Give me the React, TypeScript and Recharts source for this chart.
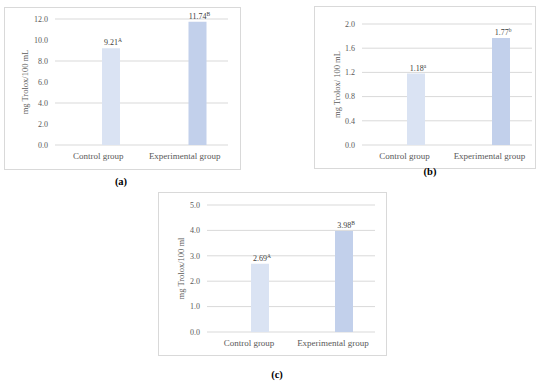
import React from 'react';
import { BarChart, Bar, XAxis, YAxis, CartesianGrid, Cell, LabelList } from 'recharts';

const categories = ['Control group', 'Experimental group'];
const barColors = ['#DAE3F3', '#C2D0EB'];

const valuesA = [9.21, 11.74];
const lettersA = ['A', 'B'];
const ticksA = [0, 2, 4, 6, 8, 10, 12];

const valuesB = [1.18, 1.77];
const lettersB = ['a', 'b'];
const ticksB = [0, 0.4, 0.8, 1.2, 1.6, 2.0];

const valuesC = [2.69, 3.98];
const lettersC = ['A', 'B'];
const ticksC = [0, 1, 2, 3, 4, 5];

const FONT = 'Liberation Serif, Times New Roman, serif';
const GRAY = '#595959';

const YLabel = (props: any) => {
  const vb = props.viewBox || { x: 0, y: 0, width: 0, height: 0 };
  const x = vb.x + vb.width - props.off;
  const y = vb.y + vb.height / 2;
  return (
    <text
      x={x}
      y={y}
      transform={`rotate(-90 ${x} ${y})`}
      textAnchor="middle"
      dominantBaseline="central"
      fontSize={8.5}
      fontFamily={FONT}
      fill={GRAY}
    >
      {props.text}
    </text>
  );
};

type PanelProps = {
  left: number;
  top: number;
  width: number;
  height: number;
  values: number[];
  letters: string[];
  ticks: number[];
  yLabel: string;
  yLabelOff: number;
  marginTop: number;
  marginRight: number;
  yAxisWidth: number;
  xAxisHeight: number;
  gap: number;
};

const Panel = (p: PanelProps) => {
  const data = categories.map((c, i) => ({ name: c, value: p.values[i], letter: p.letters[i] }));
  const max = p.ticks[p.ticks.length - 1];
  return (
    <>
      <div
        style={{
          position: 'absolute',
          left: p.left,
          top: p.top,
          width: p.width,
          height: p.height,
          boxSizing: 'border-box',
          border: '1px solid #d9d9d9',
        }}
      />
      <div style={{ position: 'absolute', left: p.left, top: p.top }}>
        <BarChart
          width={p.width}
          height={p.height}
          data={data}
          margin={{ top: p.marginTop, right: p.marginRight, bottom: 0, left: 0 }}
          barSize={18}
          barGap={p.gap}
        >
          <CartesianGrid vertical={false} stroke="#d9d9d9" strokeWidth={1} />
          <XAxis
            dataKey="name"
            axisLine={false}
            tickLine={false}
            tickSize={0}
            tickMargin={8}
            height={p.xAxisHeight}
            tick={{ fontSize: 9, fontFamily: FONT, fill: GRAY }}
            interval={0}
          />
          <YAxis
            type="number"
            domain={[0, max]}
            ticks={p.ticks}
            axisLine={false}
            tickLine={false}
            tickSize={0}
            tickMargin={7}
            width={p.yAxisWidth}
            tickFormatter={(v: number) => v.toFixed(1)}
            tick={{ fontSize: 8, fontFamily: FONT, fill: GRAY }}
            label={<YLabel text={p.yLabel} off={p.yLabelOff} />}
          />
          <Bar dataKey="spacer" fill="transparent" isAnimationActive={false} />
          <Bar dataKey="value" isAnimationActive={false}>
            {data.map((d, i) => (
              <Cell key={d.name} fill={barColors[i]} />
            ))}
            <LabelList
              dataKey="value"
              content={(lp: any) => {
                const { x, y, width, value, index } = lp;
                return (
                  <text
                    x={Number(x) + Number(width) / 2 + 2}
                    y={Number(y) - 3}
                    textAnchor="middle"
                    fontSize={8}
                    fontFamily={FONT}
                    fill="#404040"
                  >
                    {String(value)}
                    <tspan dy={-3} fontSize={5.5}>
                      {data[index]?.letter}
                    </tspan>
                  </text>
                );
              }}
            />
          </Bar>
        </BarChart>
      </div>
    </>
  );
};

const PanelTag = ({ x, y, text }: { x: number; y: number; text: string }) => (
  <div
    style={{
      position: 'absolute',
      left: x - 20,
      top: y - 6,
      width: 40,
      height: 12,
      lineHeight: '12px',
      textAlign: 'center',
      fontFamily: FONT,
      fontWeight: 'bold',
      fontSize: 10.5,
      color: '#000',
    }}
  >
    {text}
  </div>
);

export default function App() {
  return (
    <div style={{ position: 'absolute', left: 0, top: 0, width: 550, height: 382, background: '#fff', overflow: 'hidden' }}>
      <Panel
        left={4}
        top={7}
        width={237}
        height={163}
        values={valuesA}
        letters={lettersA}
        ticks={ticksA}
        yLabel="mg Trolox/100 mL"
        yLabelOff={30}
        marginTop={12}
        marginRight={13}
        yAxisWidth={51}
        xAxisHeight={25}
        gap={7}
      />
      <Panel
        left={314}
        top={6}
        width={222}
        height={163}
        values={valuesB}
        letters={lettersB}
        ticks={ticksB}
        yLabel="mg Trolox/ 100 mL"
        yLabelOff={25}
        marginTop={18}
        marginRight={4}
        yAxisWidth={48}
        xAxisHeight={24}
        gap={5}
      />
      <Panel
        left={158}
        top={192}
        width={229}
        height={164}
        values={valuesC}
        letters={lettersC}
        ticks={ticksC}
        yLabel="mg Trolox/100 ml"
        yLabelOff={26}
        marginTop={13}
        marginRight={12}
        yAxisWidth={49}
        xAxisHeight={24}
        gap={4}
      />
      <PanelTag x={121} y={182} text="(a)" />
      <PanelTag x={430} y={172} text="(b)" />
      <PanelTag x={277} y={375} text="(c)" />
    </div>
  );
}
